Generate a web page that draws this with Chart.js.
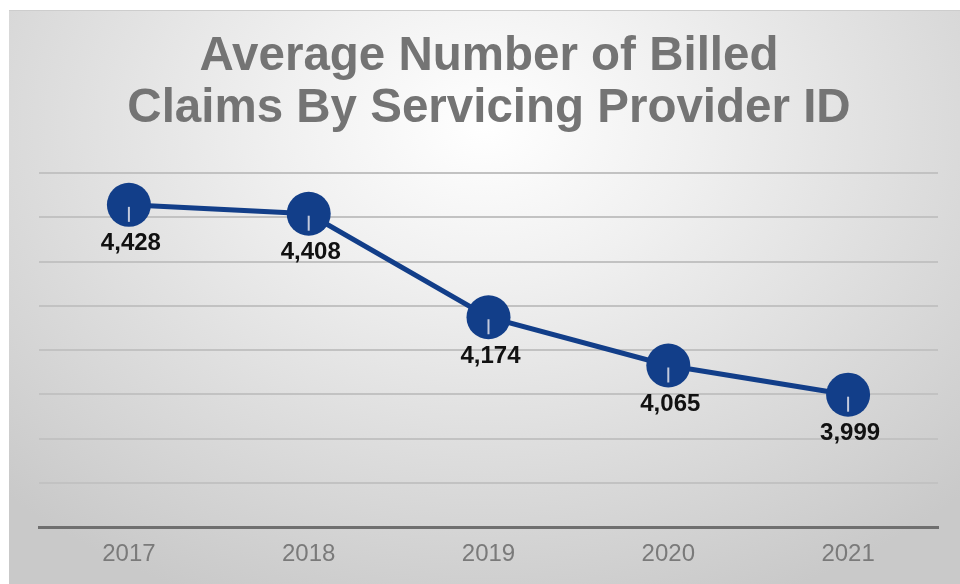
<!DOCTYPE html>
<html lang="en">
<head>
  <meta charset="UTF-8">
  <title>Average Number of Billed Claims By Servicing Provider ID</title>
  <script src="https://cdn.jsdelivr.net/npm/chart.js"></script>
  <style>
    html, body { margin: 0; padding: 0; background: #fff; width: 960px; height: 584px; overflow: hidden; }
    #panel {
      position: absolute; left: 9px; top: 10px; width: 951px; height: 574px;
      border-top: 1px solid #cdcdcd;
      background: radial-gradient(ellipse 72% 90% at 50% 20%, #ffffff 0%, #f0f0f0 30%, #dedede 62%, #c9c9c9 100%);
    }
    #claimsChart { display: block; }
  </style>
</head>
<body>

<div id="panel">
  <canvas id="claimsChart" width="951" height="573"></canvas>
</div>

<script>
  // chart data
  const years = ['2017', '2018', '2019', '2020', '2021'];
  const avgClaims = [4428, 4408, 4174, 4065, 3999];
  const titleLines = ['Average Number of Billed', 'Claims By Servicing Provider ID'];
  const yMin = 3700;
  const yMax = 4500;
  const yStep = 100;

  const navy = '#123e89';
  const fontFamily = '"Liberation Sans", Arial, sans-serif';

  // two-line title, centred a little right of the canvas middle like the original
  const titlePlugin = {
    id: 'titleText',
    afterDraw(chart) {
      const ctx = chart.ctx;
      ctx.save();
      ctx.fillStyle = '#747474';
      ctx.font = 'bold 47.5px ' + fontFamily;
      ctx.textAlign = 'center';
      ctx.textBaseline = 'alphabetic';
      ctx.fillText(titleLines[0], 480, 59);
      ctx.fillText(titleLines[1], 480, 111);
      ctx.restore();
    }
  };

  // leader tick + value label under each point
  const pointLabels = {
    id: 'pointLabels',
    afterDatasetsDraw(chart) {
      const ctx = chart.ctx;
      const meta = chart.getDatasetMeta(0);
      ctx.save();
      meta.data.forEach((pt, i) => {
        ctx.strokeStyle = 'rgba(205,210,225,0.95)';
        ctx.lineWidth = 2;
        ctx.beginPath();
        ctx.moveTo(pt.x, pt.y + 2);
        ctx.lineTo(pt.x, pt.y + 17);
        ctx.stroke();

        ctx.fillStyle = '#111';
        ctx.font = 'bold 24px ' + fontFamily;
        ctx.textAlign = 'center';
        ctx.textBaseline = 'middle';
        ctx.fillText(avgClaims[i].toLocaleString('en-US'), pt.x + 2, pt.y + 39);
      });
      ctx.restore();
    }
  };

  const ctx = document.getElementById('claimsChart').getContext('2d');
  new Chart(ctx, {
    type: 'line',
    data: {
      labels: years,
      datasets: [{
        data: avgClaims,
        borderColor: navy,
        backgroundColor: navy,
        borderWidth: 5,
        pointRadius: 22,
        pointHoverRadius: 22,
        pointBackgroundColor: navy,
        pointBorderWidth: 0,
        tension: 0,
        clip: false
      }]
    },
    options: {
      responsive: false,
      animation: false,
      layout: { padding: { top: 162, right: 17, bottom: 0, left: 0 } },
      plugins: {
        legend: { display: false },
        tooltip: { enabled: false },
        title: { display: false }
      },
      scales: {
        x: {
          offset: true,
          grid: { display: false, drawTicks: false },
          border: { display: true, color: '#6f6f6f', width: 3 },
          ticks: {
            color: '#7a7a7a',
            padding: 13,
            font: { family: fontFamily, size: 24 }
          },
          afterFit(scale) { scale.height = 57; }
        },
        y: {
          min: yMin,
          max: yMax,
          grid: { color: '#c2c2c2', lineWidth: 2, drawTicks: false },
          border: { display: false },
          ticks: { display: false, stepSize: yStep },
          afterFit(scale) { scale.width = 30; }
        }
      }
    },
    plugins: [pointLabels, titlePlugin]
  });
</script>

</body>
</html>
